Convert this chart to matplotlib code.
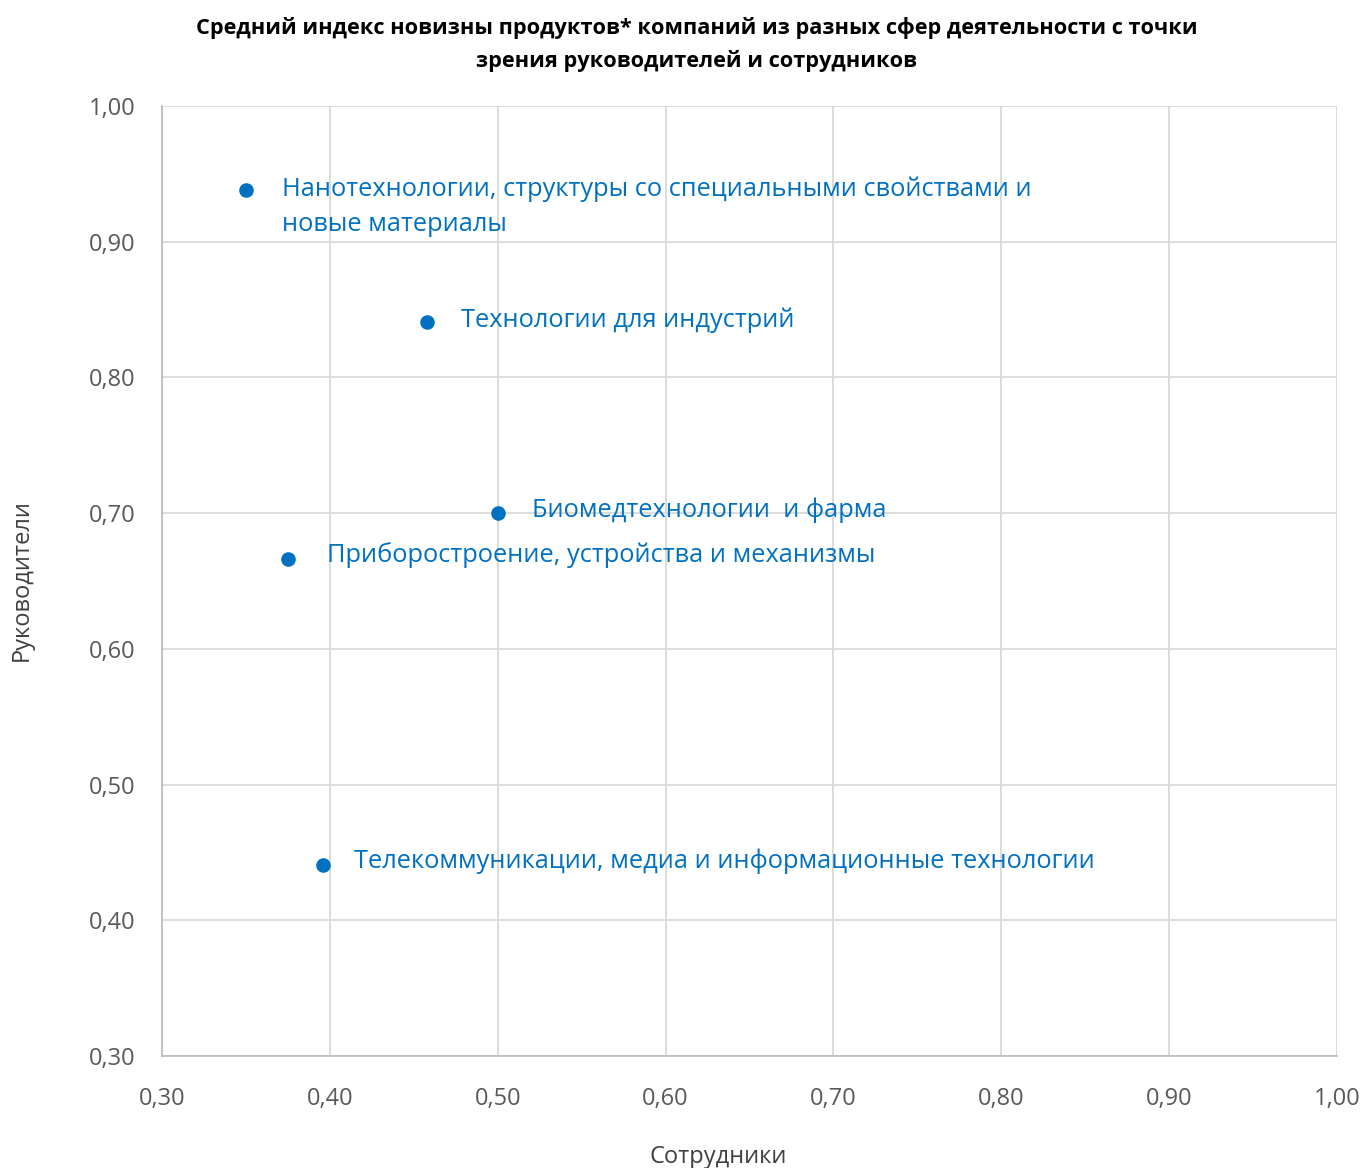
import matplotlib
matplotlib.use("Agg")
import matplotlib.pyplot as plt
from matplotlib.ticker import MultipleLocator, FuncFormatter

# Data
categories = [
    "Нанотехнологии, структуры со специальными свойствами и\nновые материалы",
    "Технологии для индустрий",
    "Биомедтехнологии  и фарма",
    "Приборостроение, устройства и механизмы",
    "Телекоммуникации, медиа и информационные технологии",
]
employees = [0.35, 0.458, 0.50, 0.375, 0.396]
managers = [0.938, 0.841, 0.700, 0.666, 0.441]

title = "Средний индекс новизны продуктов* компаний из разных сфер деятельности с точки\nзрения руководителей и сотрудников"
xlabel = "Сотрудники"
ylabel = "Руководители"

FONT = ["Open Sans", "DejaVu Sans"]
plt.rcParams['font.family'] = FONT
BLUE = "#0070C0"

fig = plt.figure(figsize=(13.64, 11.68), dpi=100)
ax = fig.add_axes([162/1364, 1-1056/1168, (1337-162)/1364, (1056-106)/1168])

ax.scatter(employees, managers, s=110, color=BLUE, zorder=3, linewidths=0)

label_offsets = [(36, 14, 'top'), (34, 2, 'center'), (34, 3, 'center'), (39, 4, 'center'), (31, 3, 'center')]
for cat, x, y, (dx, dy, va) in zip(categories, employees, managers, label_offsets):
    ax.annotate(cat, (x, y), xytext=(dx * 0.72, dy * 0.72), textcoords='offset points',
                color=BLUE, fontsize=18.3, va=va, ha='left', linespacing=1.55)

ax.set_xlim(0.30, 1.00)
ax.set_ylim(0.30, 1.00)
ax.xaxis.set_major_locator(MultipleLocator(0.1))
ax.yaxis.set_major_locator(MultipleLocator(0.1))
fmt = FuncFormatter(lambda v, p: f"{v:.2f}".replace('.', ','))
ax.xaxis.set_major_formatter(fmt)
ax.yaxis.set_major_formatter(fmt)
ax.grid(True, color="#D9D9D9", linewidth=1.3, zorder=0)
ax.set_axisbelow(True)
for s in ['top', 'right']:
    ax.spines[s].set_visible(False)
for s in ['left', 'bottom']:
    ax.spines[s].set_color("#BFBFBF")
    ax.spines[s].set_linewidth(1.3)
ax.tick_params(length=0, labelsize=17, labelcolor="#595959")
ax.tick_params(axis='y', pad=19)
ax.tick_params(axis='x', pad=22)

fig.text(718/1364, 1-1157/1168, xlabel, ha='center', va='center', fontsize=17, color="#404040")
fig.text(22/1364, 1-580/1168, ylabel, ha='center', va='center', rotation=90, fontsize=17, color="#404040")
fig.text(697/1364, 1-44.5/1168, title, ha='center', va='center', fontsize=15.7, fontweight='bold',
         color="#000000", linespacing=1.6)

fig.savefig("out.png", dpi=100, facecolor='white')
